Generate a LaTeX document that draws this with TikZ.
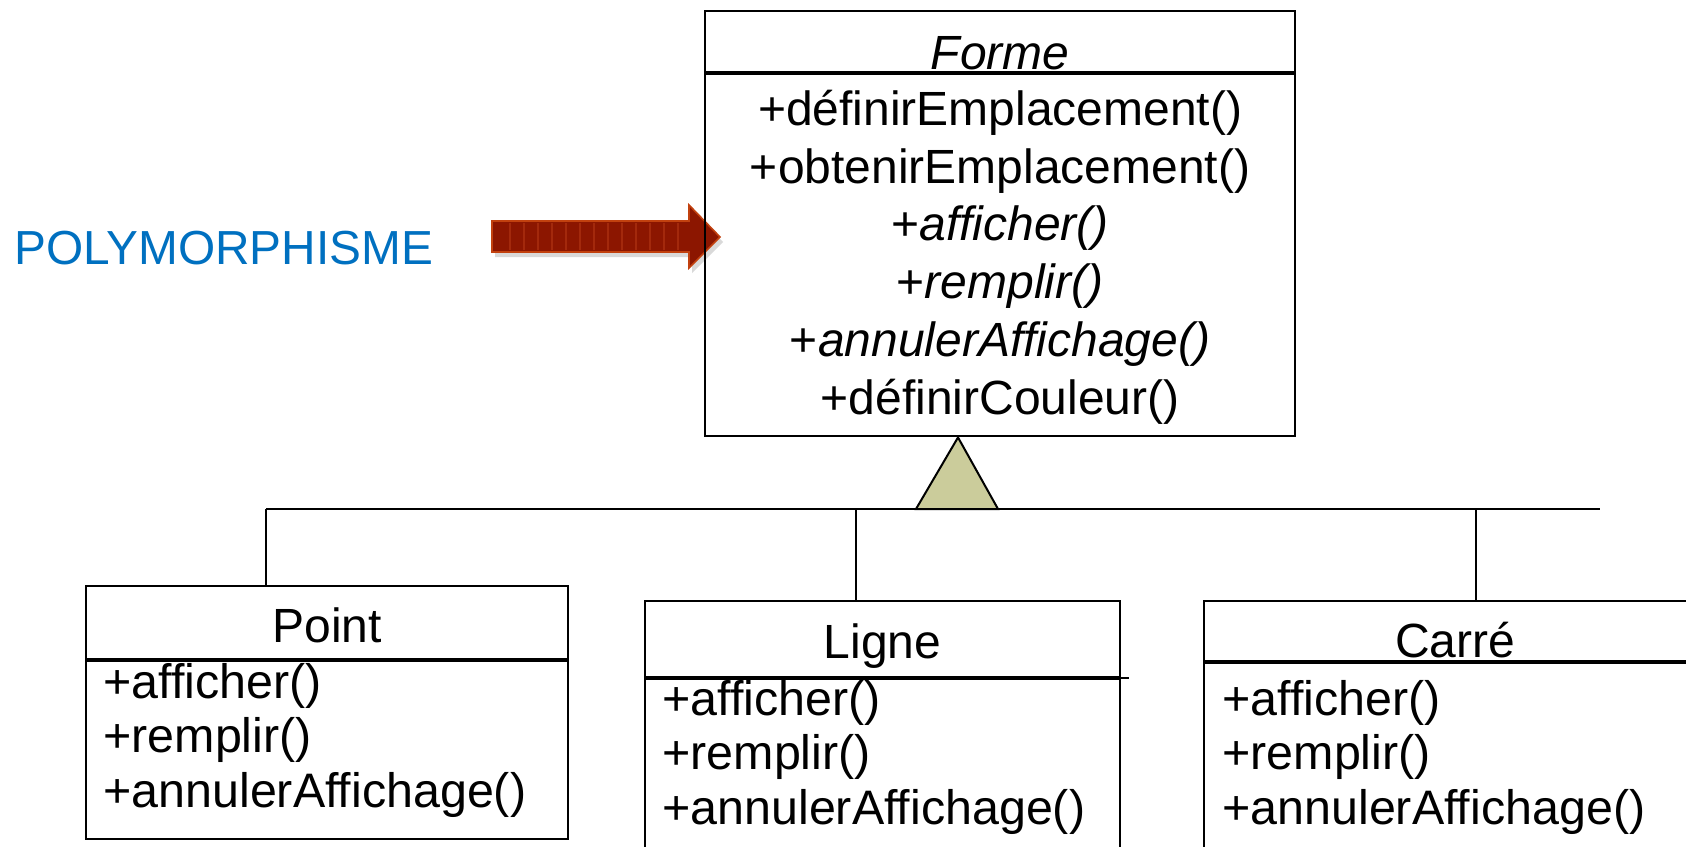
\documentclass[tikz,border=0pt]{standalone}
\usepackage{fontspec}
\setmainfont{Liberation Sans}
\usetikzlibrary{positioning, calc, shadows}

\definecolor{polyblue}{HTML}{0070C0}
\definecolor{arrowred}{HTML}{8C1600}
\definecolor{arrowedge}{HTML}{C2410F}
\definecolor{arrowstripe}{HTML}{A3290C}
\definecolor{trifill}{HTML}{CBCC9B}

\tikzset{
  classbox/.style={draw, line width=1.1pt, inner sep=0pt, anchor=north west},
  classname/.style={anchor=base, font=\fontsize{24}{28}\selectfont},
  op/.style={anchor=base west, inner sep=0pt, font=\fontsize{24.2}{28}\selectfont},
  link/.style={line width=0.9pt},
  generalisation/.style={line width=1pt, fill=trifill, line join=miter},
  bigarrow/.style={fill=arrowred, draw=arrowedge, line width=0.8pt,
    drop shadow={shadow xshift=1.5pt, shadow yshift=-2.5pt, opacity=0.3}},
}

\begin{document}
\begin{tikzpicture}[x=0.5pt, y=-0.5pt]
\useasboundingbox (0,0) rectangle (1686,846);
\clip (0,0) rectangle (1686,846);

% fleche polymorphisme
\node[anchor=base west, inner sep=0pt, text=polyblue, font=\fontsize{23.9}{28}\selectfont] (polymorphisme) at (14,264) {POLYMORPHISME};
\draw[bigarrow] (492,221) -- (689,221) -- (689,205) -- (720,237) -- (689,268) -- (689,252) -- (492,252) -- cycle;
\foreach \x in {510,524,...,678}
  \draw[arrowstripe, line width=0.6pt] (\x,223) -- (\x,250);

% classe mere
\node[classbox, minimum width=295pt, minimum height=30.5pt] (forme) at (704,10) {};
\node[classbox, minimum width=295pt, minimum height=181pt] (formeops) at (forme.south west) {};
\node[classname] (formename) at ($(forme.south)+(0,-4)$) {\textit{Forme}};
\foreach \op [count=\i] in {+définirEmplacement(), +obtenirEmplacement(), +\textit{afficher()}, +\textit{remplir()}, +\textit{annulerAffichage()}, +définirCouleur()}
  \node[classname] (formeop\i) at ($(formeops.north)+(0,52+57.8*\i-57.8)$) {\op};

% classes filles
\node[classbox, minimum width=241pt, minimum height=36.5pt] (point) at (85,585) {};
\node[classbox, minimum width=241pt, minimum height=89pt] (pointops) at (point.south west) {};
\node[classname] (pointname) at ($(point.south)+(0,-18)$) {Point};
\foreach \op [count=\i] in {+afficher(), +remplir(), +annulerAffichage()}
  \node[op] (pointop\i) at ($(pointops.north west)+(18,38+54.5*\i-54.5)$) {\op};

\node[classbox, minimum width=237.5pt, minimum height=38pt] (ligne) at (644,600) {};
\node[classbox, minimum width=237.5pt, minimum height=120pt] (ligneops) at (ligne.south west) {};
\node[classname] (lignename) at ($(ligne.south)+(0,-20)$) {Ligne};
\draw[link] (ligne.south east) -- ++(8,0);
\foreach \op [count=\i] in {+afficher(), +remplir(), +annulerAffichage()}
  \node[op] (ligneop\i) at ($(ligneops.north west)+(18,37+54.5*\i-54.5)$) {\op};

\node[classbox, minimum width=251pt, minimum height=30pt] (carre) at (1203,600) {};
\node[classbox, minimum width=251pt, minimum height=120pt] (carreops) at (carre.south west) {};
\node[classname] (carrename) at ($(carre.south)+(0,-5)$) {Carré};
\foreach \op [count=\i] in {+afficher(), +remplir(), +annulerAffichage()}
  \node[op] (carreop\i) at ($(carreops.north west)+(19,53+54.5*\i-54.5)$) {\op};

% heritage
\coordinate (busL) at (266,509);
\coordinate (busR) at (1600,509);
\coordinate (ligneup) at ($(ligne.north west)+(212,0)$);
\coordinate (carreup) at ($(carre.north west)+(273,0)$);
\coordinate (apex) at ($(formeops.south west)+(254,0)$);
\draw[link] (busL) -- (busR);
\draw[link] (busL) -- (busL |- point.north);
\draw[link] (ligneup) -- (ligneup |- busL);
\draw[link] (carreup) -- (carreup |- busL);
\draw[generalisation] (apex) -- ($(apex |- busL)+(40,0)$) -- ($(apex |- busL)+(-42,0)$) -- cycle;
\end{tikzpicture}
\end{document}
